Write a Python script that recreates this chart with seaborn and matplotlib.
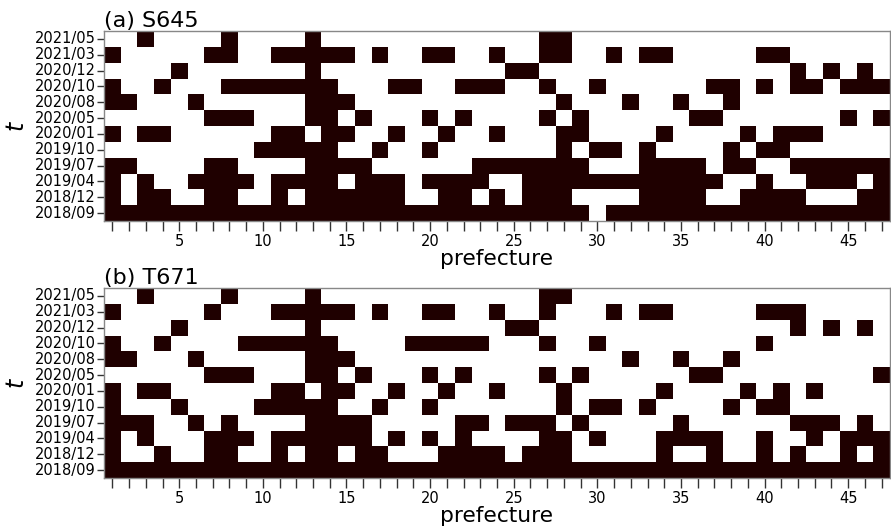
import numpy as np
import pandas as pd
import matplotlib
matplotlib.use("Agg")
import matplotlib.pyplot as plt
import seaborn as sns
from matplotlib.colors import ListedColormap

# Time points (rows, top to bottom) and prefectures (columns)
months = ['2021/05', '2021/03', '2020/12', '2020/10', '2020/08', '2020/05',
          '2020/01', '2019/10', '2019/07', '2019/04', '2018/12', '2018/09']
prefectures = list(range(1, 48))

# Prefectures marked (dark cells) for each time point
s645_marked = [
    [3, 8, 13, 27, 28],
    [1, 7, 8, 11, 12, 13, 14, 15, 17, 20, 21, 24, 27, 28, 31, 33, 34, 40, 41],
    [5, 13, 25, 26, 42, 44, 46],
    [1, 4, 8, 9, 10, 11, 12, 13, 14, 18, 19, 22, 23, 24, 27, 30, 37, 38, 40, 42, 43, 45, 46, 47],
    [1, 2, 6, 13, 14, 15, 28, 32, 35, 38],
    [7, 8, 9, 13, 14, 16, 20, 22, 27, 29, 36, 37, 45, 47],
    [1, 3, 4, 11, 12, 14, 15, 18, 21, 24, 28, 29, 34, 39, 41, 42, 43],
    [10, 11, 12, 13, 14, 17, 20, 28, 30, 31, 33, 38, 40, 41],
    [1, 2, 7, 8, 13, 14, 15, 16, 23, 24, 25, 26, 27, 28, 29, 33, 34, 35, 36, 38, 39,
     42, 43, 44, 45, 46, 47],
    [1, 3, 6, 7, 8, 9, 11, 12, 13, 14, 16, 17, 18, 20, 21, 22, 23, 26, 27, 28, 29, 30,
     31, 32, 33, 34, 35, 36, 37, 40, 43, 44, 45, 47],
    [1, 3, 4, 7, 8, 11, 13, 14, 15, 16, 17, 18, 21, 22, 24, 26, 27, 28, 33, 34, 35, 36,
     39, 40, 41, 42, 46, 47],
    [1, 2, 3, 4, 5, 6, 7, 8, 9, 10, 11, 12, 13, 14, 15, 16, 17, 18, 19, 20, 21, 22, 23,
     24, 25, 26, 27, 28, 29, 31, 32, 33, 34, 35, 36, 37, 38, 39, 40, 41, 42, 43, 44, 45,
     46, 47],
]

t671_marked = [
    [3, 8, 13, 27, 28],
    [1, 7, 11, 12, 13, 14, 15, 17, 20, 21, 24, 27, 31, 33, 34, 40, 41, 42],
    [5, 13, 25, 26, 42, 44, 46],
    [1, 4, 9, 10, 11, 12, 13, 14, 19, 20, 21, 22, 23, 27, 30, 40],
    [1, 2, 6, 13, 14, 15, 32, 35, 38],
    [7, 8, 9, 13, 14, 16, 20, 22, 27, 29, 36, 37, 47],
    [1, 3, 4, 11, 12, 14, 15, 18, 21, 24, 28, 34, 39, 41, 43],
    [1, 5, 10, 11, 12, 13, 14, 17, 20, 28, 30, 31, 33, 38, 40, 41],
    [1, 2, 3, 6, 8, 13, 14, 15, 16, 22, 23, 25, 26, 27, 29, 35, 42, 43, 44, 46],
    [1, 3, 7, 8, 9, 11, 12, 13, 14, 15, 16, 18, 20, 22, 27, 28, 30, 34, 35, 36, 37, 40,
     43, 45, 46, 47],
    [1, 4, 7, 8, 11, 13, 14, 16, 17, 21, 22, 23, 24, 26, 27, 28, 34, 37, 40, 42, 45, 47],
    [1, 2, 3, 4, 5, 6, 7, 8, 9, 10, 11, 12, 13, 14, 15, 16, 17, 18, 19, 20, 21, 22, 23,
     24, 25, 26, 27, 28, 29, 30, 31, 32, 33, 34, 35, 36, 37, 38, 39, 40, 41, 42, 43, 44,
     45, 46, 47],
]

panels = [('(a) S645', s645_marked), ('(b) T671', t671_marked)]


def to_frame(marked):
    df = pd.DataFrame(0, index=months, columns=prefectures)
    for m, cols in zip(months, marked):
        df.loc[m, cols] = 1
    return df


cmap = ListedColormap(['white', '#1f0000'])

fig = plt.figure(figsize=(8.91, 5.31), dpi=100)
ax_a = fig.add_axes([0.1167, 0.5838, 0.8822, 0.3578])
ax_b = fig.add_axes([0.1167, 0.0998, 0.8822, 0.3578])

for ax, (title, marked) in zip([ax_a, ax_b], panels):
    df = to_frame(marked)
    sns.heatmap(df, ax=ax, cmap=cmap, vmin=0, vmax=1, cbar=False,
                xticklabels=False, yticklabels=True)
    ax.set_xticks(np.arange(len(prefectures)) + 0.5)
    ax.set_xticklabels([str(p) if p % 5 == 0 else '' for p in prefectures])
    ax.set_yticks(np.arange(len(months)) + 0.5)
    ax.set_yticklabels(months, rotation=0)
    ax.tick_params(axis='x', length=7, width=1, labelsize=10.5, pad=2, color='#333333')
    ax.tick_params(axis='y', length=5, width=1, labelsize=10.5, pad=1, color='#333333')
    for s in ax.spines.values():
        s.set_visible(True)
        s.set_color('#888888')
        s.set_linewidth(1)
    ax.set_title(title, loc='left', fontsize=16, pad=2)
    ax.set_xlabel('prefecture', fontsize=15.7, labelpad=0)
    ax.set_ylabel('$t$', fontsize=17, labelpad=4)

plt.savefig('out.png', dpi=100)
